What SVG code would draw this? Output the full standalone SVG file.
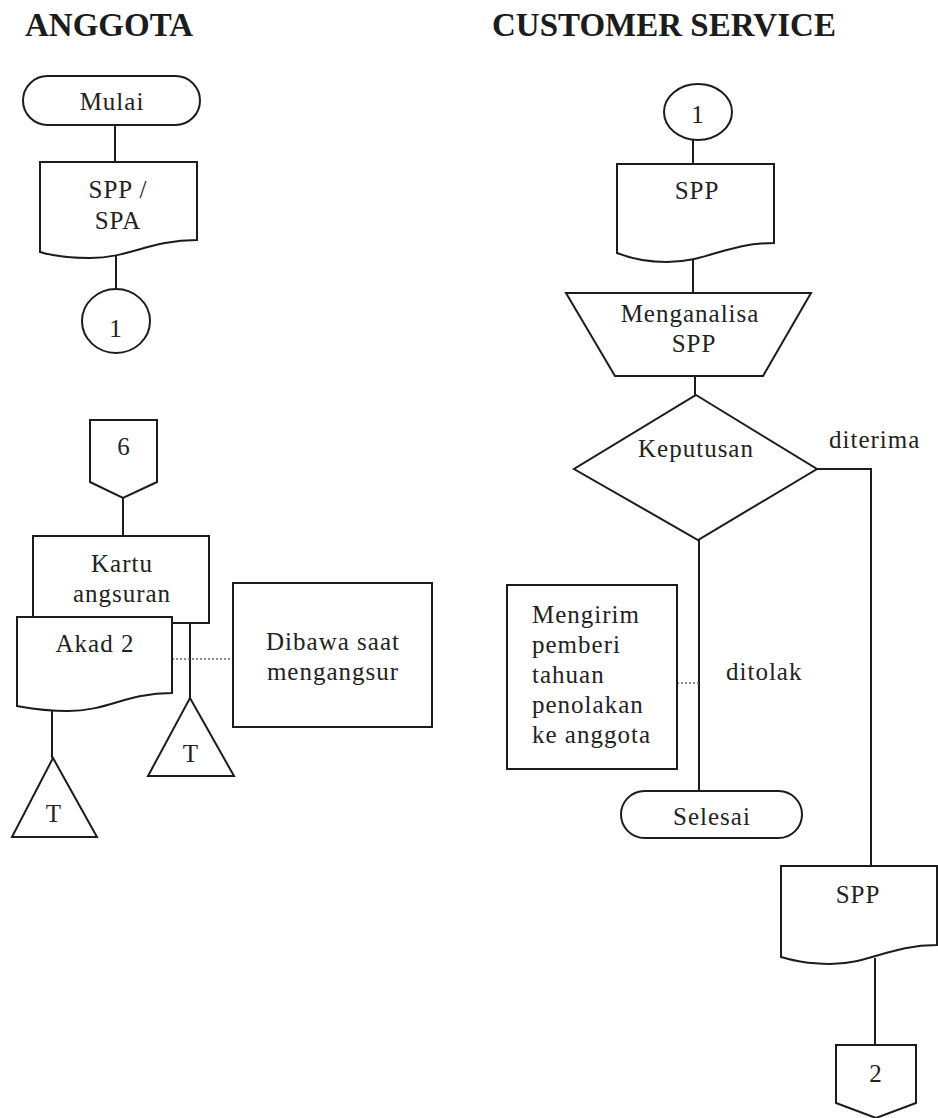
<svg xmlns="http://www.w3.org/2000/svg" width="938" height="1118" viewBox="0 0 938 1118">
<style>
.s{fill:#fff;stroke:#1c1c1c;stroke-width:2}
.c{fill:none;stroke:#1c1c1c;stroke-width:2}
.d{fill:none;stroke:#666;stroke-width:1.5;stroke-dasharray:2,2}
.t{font-family:"Liberation Serif","Times New Roman",serif;font-size:25px;letter-spacing:1px;fill:#222}
.m{text-anchor:middle}
.h{font-family:"Liberation Serif","Times New Roman",serif;font-size:33px;font-weight:bold;fill:#1c1c1c}
</style>
<rect width="938" height="1118" fill="#fff"/>
<text class="h" x="25" y="36">ANGGOTA</text>
<text class="h" x="492" y="36">CUSTOMER SERVICE</text>
<g id="connectors">
<path class="c" d="M115,125 V162"/>
<path class="c" d="M116,256 V289"/>
<path class="c" d="M123,498 V536"/>
<path class="c" d="M190,623 V698"/>
<path class="c" d="M52,710 V758"/>
<path class="d" d="M172,659 H233"/>
<path class="c" d="M693,140 V164"/>
<path class="c" d="M693,258 V293"/>
<path class="c" d="M695,376 V395"/>
<path class="c" d="M817,469 H871 V866"/>
<path class="c" d="M699,540 V791"/>
<path class="d" d="M677,683 H699"/>
<path class="c" d="M875,958 V1045"/>
<text class="t" x="829" y="448">diterima</text>
<text class="t" x="726" y="680">ditolak</text>
</g>
<g id="mulai">
<rect class="s" x="23" y="76" width="177" height="49" rx="24.5"/>
<text class="t m" x="112" y="110">Mulai</text>
</g>
<g id="spp-spa">
<path class="s" d="M40,162 H197 V240 C150,240 130,258 90,258 C65,258 50,255 40,252 Z"/>
<text class="t m" x="118" y="198">SPP /</text>
<text class="t m" x="118" y="229">SPA</text>
</g>
<g id="conn1-left">
<ellipse class="s" cx="116" cy="321" rx="34" ry="32"/>
<text class="t m" x="116" y="337">1</text>
</g>
<g id="offpage6">
<path class="s" d="M90,420 H157 V482 L123,498 L90,482 Z"/>
<text class="t m" x="124" y="455">6</text>
</g>
<g id="kartu">
<rect class="s" x="33" y="536" width="176" height="87"/>
<text class="t m" x="122" y="572">Kartu</text>
<text class="t m" x="122" y="602">angsuran</text>
</g>
<g id="akad2">
<path class="s" d="M17,617 H172 V693 C126,693 108,711 68,711 C42,711 28,708 17,706 Z"/>
<text class="t m" x="95" y="652">Akad 2</text>
</g>
<g id="dibawa">
<rect class="s" x="233" y="583" width="199" height="144"/>
<text class="t m" x="333" y="650">Dibawa saat</text>
<text class="t m" x="333" y="680">mengangsur</text>
</g>
<g id="t-akad">
<path class="s" d="M53,758 L97,837 L12,837 Z"/>
<text class="t m" x="54" y="822">T</text>
</g>
<g id="t-kartu">
<path class="s" d="M190,698 L234,776 L148,776 Z"/>
<text class="t m" x="191" y="762">T</text>
</g>
<g id="conn1-right">
<ellipse class="s" cx="698" cy="112" rx="34" ry="28"/>
<text class="t m" x="698" y="123">1</text>
</g>
<g id="spp1">
<path class="s" d="M617,164 H774 V243 C727,243 707,262 667,262 C642,262 627,257 617,253 Z"/>
<text class="t m" x="697" y="199">SPP</text>
</g>
<g id="menganalisa">
<path class="s" d="M566,293 H811 L763,376 H615 Z"/>
<text class="t m" x="690" y="322">Menganalisa</text>
<text class="t m" x="694" y="352">SPP</text>
</g>
<g id="keputusan">
<path class="s" d="M696,395 L817,469 L698,540 L574,469 Z"/>
<text class="t m" x="696" y="457">Keputusan</text>
</g>
<g id="mengirim">
<rect class="s" x="507" y="585" width="170" height="184"/>
<text class="t" x="532" y="623">Mengirim</text>
<text class="t" x="532" y="653">pemberi</text>
<text class="t" x="532" y="683">tahuan</text>
<text class="t" x="532" y="713">penolakan</text>
<text class="t" x="532" y="743">ke anggota</text>
</g>
<g id="selesai">
<rect class="s" x="621" y="791" width="181" height="47" rx="23.5"/>
<text class="t m" x="712" y="825">Selesai</text>
</g>
<g id="spp2">
<path class="s" d="M781,866 H937 V945 C890,945 870,964 830,964 C805,964 792,960 781,957 Z"/>
<text class="t m" x="858" y="903">SPP</text>
</g>
<g id="offpage2">
<path class="s" d="M836,1045 H916 V1103 L876,1118 L836,1103 Z"/>
<text class="t m" x="876" y="1082">2</text>
</g>
</svg>
